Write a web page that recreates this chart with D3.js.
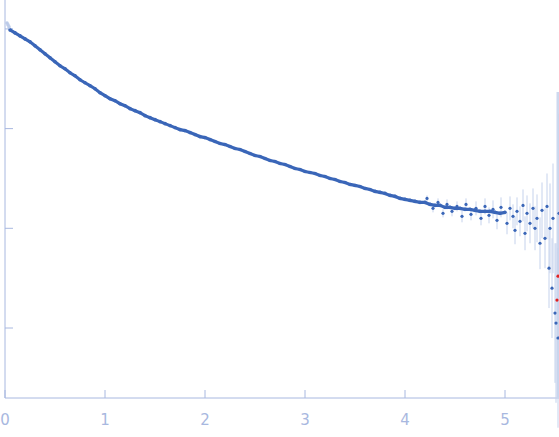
<!DOCTYPE html><html><head><meta charset="utf-8">
<script src="https://cdn.jsdelivr.net/npm/d3@7"></script>
<style>body{margin:0;background:#fff}</style></head><body><svg id="c" width="559" height="437"></svg>
<script>
const q=[0.05,0.10,0.15,0.20,0.25,0.30,0.35,0.40,0.45,0.50,0.55,0.60,0.65,0.70,0.75,0.80,0.85,0.90,0.95,1.00,1.05,1.10,1.15,1.20,1.25,1.30,1.35,1.40,1.45,1.50,1.55,1.60,1.65,1.70,1.75,1.80,1.85,1.90,1.95,2.00,2.05,2.10,2.15,2.20,2.25,2.30,2.35,2.40,2.45,2.50,2.55,2.60,2.65,2.70,2.75,2.80,2.85,2.90,2.95,3.00,3.05,3.10,3.15,3.20,3.25,3.30,3.35,3.40,3.45,3.50,3.55,3.60,3.65,3.70,3.75,3.80,3.85,3.90,3.95,4.00,4.05,4.10,4.15,4.20,4.25,4.30,4.35,4.40,4.45,4.50,4.55,4.60,4.65,4.70,4.75,4.80,4.85,4.90,4.95,5.00];
const logI=[-0.01,-0.04,-0.07,-0.10,-0.13,-0.17,-0.21,-0.25,-0.29,-0.33,-0.37,-0.40,-0.44,-0.47,-0.51,-0.54,-0.57,-0.60,-0.64,-0.67,-0.70,-0.72,-0.75,-0.77,-0.80,-0.82,-0.84,-0.87,-0.89,-0.91,-0.93,-0.95,-0.97,-0.99,-1.01,-1.02,-1.04,-1.06,-1.08,-1.09,-1.11,-1.13,-1.15,-1.16,-1.18,-1.20,-1.21,-1.23,-1.25,-1.27,-1.28,-1.30,-1.32,-1.33,-1.35,-1.36,-1.38,-1.40,-1.41,-1.43,-1.44,-1.45,-1.47,-1.48,-1.50,-1.51,-1.53,-1.54,-1.56,-1.57,-1.58,-1.60,-1.61,-1.63,-1.64,-1.65,-1.67,-1.68,-1.70,-1.71,-1.72,-1.73,-1.74,-1.74,-1.76,-1.77,-1.77,-1.79,-1.79,-1.80,-1.80,-1.81,-1.81,-1.82,-1.83,-1.83,-1.83,-1.84,-1.85,-1.84];
const scatQ=[4.22,4.28,4.33,4.38,4.42,4.47,4.52,4.57,4.61,4.66,4.71,4.76,4.8,4.84,4.88,4.92,4.96,5.02,5.05,5.08,5.10,5.12,5.15,5.18,5.20,5.22,5.25,5.28,5.30,5.32,5.35,5.37,5.40,5.42,5.44,5.45,5.47,5.48,5.50,5.51,5.53,5.54];
const scatI=[-1.70,-1.80,-1.74,-1.85,-1.76,-1.83,-1.78,-1.88,-1.76,-1.86,-1.80,-1.90,-1.78,-1.87,-1.81,-1.92,-1.79,-1.95,-1.80,-1.88,-2.02,-1.83,-1.93,-1.77,-2.05,-1.85,-1.95,-1.80,-2.00,-1.90,-2.15,-1.82,-2.10,-1.78,-2.40,-2.00,-2.60,-1.90,-2.85,-2.95,-3.10,-1.85];
const scatE=[0.03,0.04,0.04,0.04,0.05,0.05,0.05,0.06,0.06,0.06,0.07,0.07,0.08,0.08,0.09,0.09,0.10,0.11,0.12,0.12,0.14,0.14,0.15,0.16,0.17,0.18,0.2,0.2,0.22,0.24,0.26,0.28,0.3,0.33,0.4,0.45,0.5,0.55,0.7,0.8,0.9,1.0];
const lowQ=[0.02,0.03,0.04],lowI=[0.06,0.04,0.02];
const redQ=[5.53,5.52],redI=[-2.48,-2.72];
const xTicks=[0,1,2,3,4,5],yTicks=[0,-1,-2,-3];
const svg=d3.select("#c");
const x=d3.scaleLinear().domain([0,5.54]).range([5,559]);
const y=d3.scaleLinear().domain([0.29,-3.702]).range([0,398]);
const ac="#a8b8e0";
svg.append("line").attr("x1",5).attr("x2",5).attr("y1",0).attr("y2",398).attr("stroke",ac);
svg.append("line").attr("x1",5).attr("x2",559).attr("y1",398).attr("y2",398).attr("stroke",ac);
xTicks.forEach(t=>{svg.append("line").attr("x1",x(t)).attr("x2",x(t)).attr("y1",390).attr("y2",398).attr("stroke",ac);
svg.append("text").attr("x",x(t)).attr("y",425).attr("text-anchor","middle").attr("fill",ac).attr("font-family","DejaVu Sans").attr("font-size",15).text(t);});
yTicks.forEach(t=>svg.append("line").attr("x1",5).attr("x2",13).attr("y1",y(t)).attr("y2",y(t)).attr("stroke",ac));
svg.append("rect").attr("x",x(5.515)).attr("y",92).attr("width",5).attr("height",306).attr("fill","#cdd8ee");
scatQ.forEach((d,i)=>svg.append("line").attr("x1",x(d)).attr("x2",x(d)).attr("y1",y(scatI[i]+scatE[i])).attr("y2",y(scatI[i]-scatE[i])).attr("stroke","#c5d2ec").attr("stroke-width",1));
svg.append("path").attr("d",d3.line().x((d,i)=>x(q[i])).y(d=>y(d))(logI)).attr("fill","none").attr("stroke","#3a66b8").attr("stroke-width",3.2);
q.forEach((d,i)=>svg.append("circle").attr("cx",x(d)).attr("cy",y(logI[i])).attr("r",1.8).attr("fill","#3a66b8"));
scatQ.forEach((d,i)=>svg.append("circle").attr("cx",x(d)).attr("cy",y(scatI[i])).attr("r",1.6).attr("fill","#3a66b8"));
lowQ.forEach((d,i)=>svg.append("circle").attr("cx",x(d)).attr("cy",y(lowI[i])).attr("r",1.8).attr("fill","#bccbe8"));
redQ.forEach((d,i)=>svg.append("circle").attr("cx",x(d)).attr("cy",y(redI[i])).attr("r",1.6).attr("fill","#e02020"));
</script></body></html>
